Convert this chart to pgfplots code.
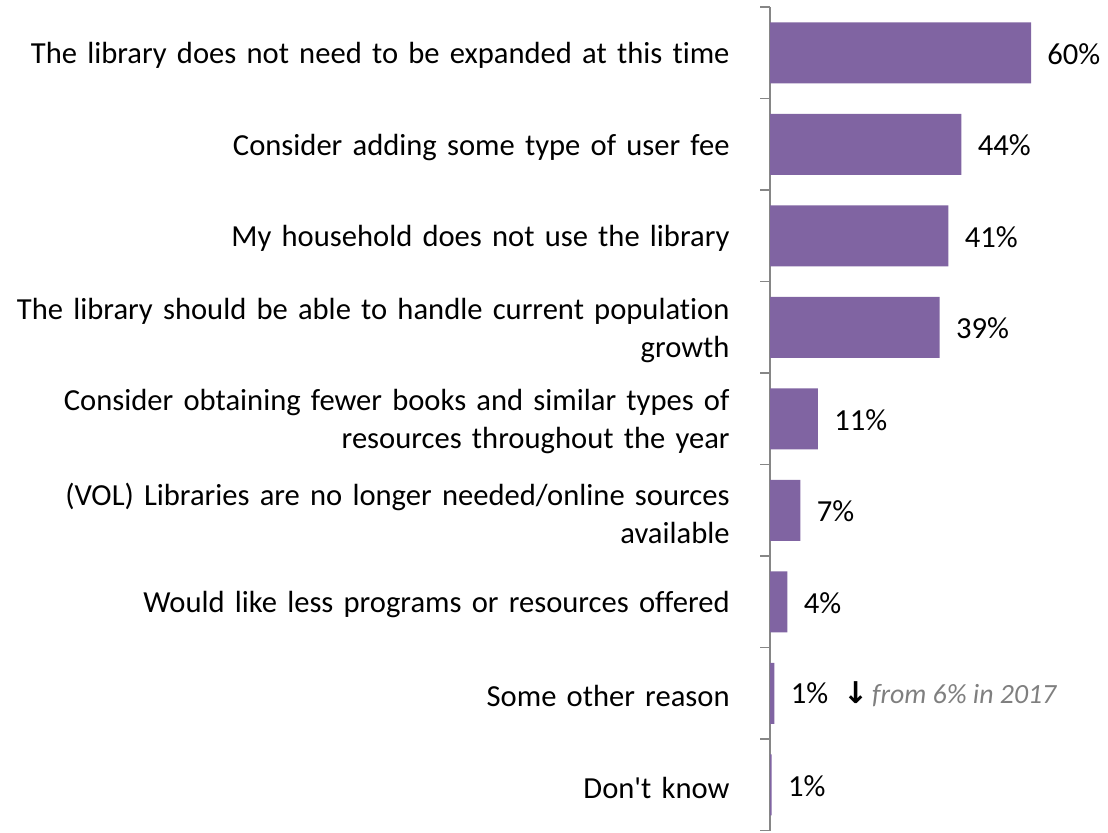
\documentclass[border=0pt]{standalone}
\usepackage{fontspec}
\setmainfont{Carlito}[Ligatures={NoCommon}]
\newfontfamily\dejavu{DejaVu Sans}
\usepackage{pgfplots}
\pgfplotsset{compat=1.18}
\definecolor{barpurple}{RGB}{128,100,162}
\definecolor{axisgray}{RGB}{134,134,134}
\definecolor{notegray}{RGB}{127,127,127}
\newcommand{\lfont}{\fontsize{15.3}{19}\selectfont}
\begin{document}
\begin{tikzpicture}
\useasboundingbox (0,0) rectangle (554pt,416.5pt);
\begin{axis}[
  at={(385pt,1.25pt)}, anchor=south west,
  scale only axis, width=152.25pt, height=411.75pt,
  xbar, bar width=30.5pt,
  xmin=0, xmax=70, ymin=-0.5, ymax=8.5,
  y dir=reverse,
  axis x line=none,
  axis y line*=left,
  axis line style={draw=axisgray, line width=0.9pt},
  ytick={0,...,8},
  minor ytick={-0.5,0.5,...,8.5},
  major tick length=0pt,
  minor tick length=5pt,
  tick align=outside,
  minor tick style={draw=axisgray, line width=0.9pt},
  yticklabels={
    {The library does not need to be expanded at this time},
    {Consider adding some type of user fee},
    {My household does not use the library},
    {The library should be able to handle current population\\growth},
    {Consider obtaining fewer books and similar types of\\resources throughout the year},
    {(VOL) Libraries are no longer needed/online sources\\available},
    {Would like less programs or resources offered},
    {Some other reason},
    {Don\textquotesingle t know}},
  yticklabel style={font=\lfont, align=right, text width=375pt, inner sep=0pt, xshift=-20pt, yshift=-1.5pt},
  point meta=explicit symbolic,
  nodes near coords,
  nodes near coords style={font=\lfont, anchor=west, inner sep=0pt, xshift=8pt, yshift=-0.5pt, text=black},
]
\addplot[fill=barpurple, draw=none] coordinates {
  (60,0) [60\%]
  (44,1) [44\%]
  (41,2) [41\%]
  (39,3) [39\%]
  (11,4) [11\%]
  (7,5) [7\%]
  (4,6) [4\%]
  (1,7) [1\% \hspace{4pt}{\dejavu\bfseries\fontsize{15}{19}\selectfont ↓}\hspace{2pt}{\color{notegray}\itshape\fontsize{13.9}{19}\selectfont from 6\% in 2017}]
  (0.4,8) [1\%]
};
\end{axis}
\end{tikzpicture}
\end{document}
